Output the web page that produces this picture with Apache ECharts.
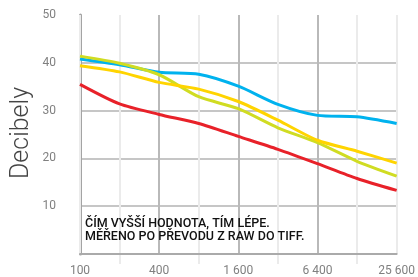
<!DOCTYPE html>
<html><head><meta charset="utf-8">
<script src="https://cdn.jsdelivr.net/npm/echarts@6/dist/echarts.min.js"></script>
<style>html,body{margin:0;padding:0;background:#fff}#c{width:418px;height:277px}</style>
</head><body><div id="c"></div>
<script>
var isoLabels = ['100','200','400','800','1 600','3 200','6 400','12 800','25 600'];
var yTicks = [0,10,20,30,40,50];
var blueVals   = [40.8, 39.6, 38.0, 37.6, 35.1, 31.3, 29.0, 28.7, 27.3];
var limeVals   = [41.4, 39.9, 37.5, 32.9, 30.4, 26.4, 23.3, 19.4, 16.3];
var yellowVals = [39.4, 38.1, 35.9, 34.5, 31.9, 28.0, 23.8, 21.5, 19.0];
var redVals    = [35.5, 31.4, 29.2, 27.3, 24.6, 21.9, 18.9, 15.8, 13.3];
var noteLines = ['ČÍM VYŠŠÍ HODNOTA, TÍM LÉPE.', 'MĚŘENO PO PŘEVODU Z RAW DO TIFF.'];
var yTitle = 'Decibely';

var chart = echarts.init(document.getElementById('c'), null, {renderer:'canvas'});
function line(data, color, z){
  return {type:'line', data:data, xAxisIndex:0, yAxisIndex:0, smooth:0.25, symbol:'none',
    lineStyle:{color:color, width:3}, z:z, animation:false};
}
chart.setOption({
  animation:false,
  grid:{left:80, right:21, top:15, bottom:22, containLabel:false},
  xAxis:[{
    type:'category', data:isoLabels, boundaryGap:false,
    axisLine:{show:true, lineStyle:{color:'#aaaaaa', width:2}},
    axisTick:{show:false},
    axisLabel:{interval:1, color:'#808080', fontSize:12, fontFamily:'Roboto', margin:11},
    splitLine:{show:true, interval:function(i){return i===2||i===4||i===6;}, lineStyle:{color:'#a8a8a8', width:1.5}},
    z:3
  },{
    type:'category', data:isoLabels, boundaryGap:false, position:'bottom',
    axisLine:{show:false},
    axisTick:{show:true, interval:function(i){return i%2===1;}, length:10, inside:false, lineStyle:{color:'#ebebeb', width:2}},
    axisLabel:{show:false},
    splitLine:{show:true, interval:0, lineStyle:{color:'#ebebeb', width:2}},
    z:1
  }],
  yAxis:{
    type:'value', min:0, max:50, interval:10,
    axisLine:{show:true, lineStyle:{color:'#a4a4a4', width:3}},
    axisTick:{show:false},
    axisLabel:{color:'#808080', fontSize:12, fontFamily:'Roboto', margin:24,
      formatter:function(v){return v===0?'':String(v);}},
    splitLine:{show:true, lineStyle:{color:['#aaaaaa','#c6c6c6','#c6c6c6','#c6c6c6','#c6c6c6','rgba(0,0,0,0)'], width:2}}
  },
  graphic:[
    {type:'text', x:22, y:133, rotation:Math.PI/2,
      style:{text:yTitle, font:'300 25px Roboto', fill:'#444', align:'center', verticalAlign:'middle'}},
    {type:'text', left:85, top:217,
      style:{text:noteLines.join('\n'), font:'500 12.5px Roboto', fill:'#111', lineHeight:13}, z:10}
  ],
  series:[
    line(blueVals,'#00b2ee',5),
    line(limeVals,'#d0dc22',6),
    line(yellowVals,'#ffd400',7),
    line(redVals,'#e82129',8)
  ]
});
</script></body></html>
